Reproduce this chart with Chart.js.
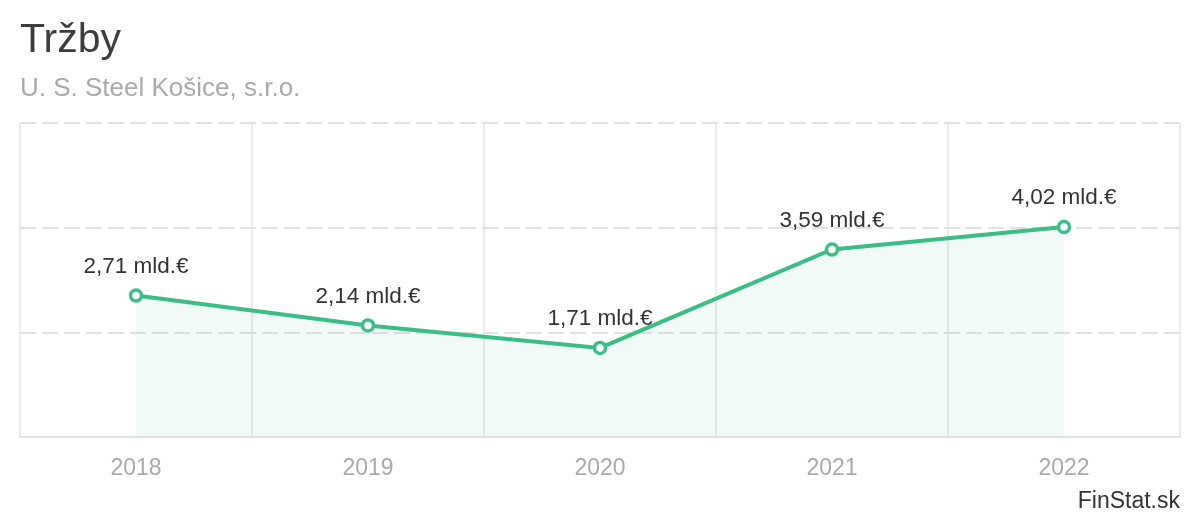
<!DOCTYPE html>
<html>
<head>
<meta charset="utf-8">
<script src="https://cdn.jsdelivr.net/npm/chart.js@4"></script>
<style>
  html, body { margin: 0; padding: 0; background: #fff; }
  .wrap { width: 1200px; height: 520px; }
</style>
</head>
<body>
<div class="wrap"><canvas id="myChart" width="1200" height="520"></canvas></div>
<script>
const years = ["2018", "2019", "2020", "2021", "2022"];
const trzby = [2.71, 2.14, 1.71, 3.59, 4.02];
const yTicks = [0, 2, 4, 6];

const green = "rgb(58, 190, 133)";
const font = "'Liberation Sans', Arial, sans-serif";

// popisky nad bodmi + FinStat.sk vpravo dole
const labelsPlugin = {
  id: "valueLabels",
  afterDatasetsDraw(chart) {
    const ctx = chart.ctx;
    const meta = chart.getDatasetMeta(0);
    ctx.save();
    ctx.font = "22.5px " + font;
    ctx.fillStyle = "#333";
    ctx.textAlign = "center";
    ctx.textBaseline = "middle";
    meta.data.forEach((pt, i) => {
      const txt = trzby[i].toFixed(2).replace(".", ",") + " mld.€";
      ctx.fillText(txt, pt.x, pt.y - 29);
    });
    ctx.font = "23px " + font;
    ctx.textAlign = "right";
    ctx.fillText("FinStat.sk", chart.chartArea.right, 502);
    ctx.restore();
  },
};

const data = {
  labels: years,
  datasets: [
    {
      label: "Tržby",
      data: trzby,
      borderColor: green,
      borderWidth: 4,
      backgroundColor: "rgba(58, 190, 133, 0.07)",
      fill: "origin",
      tension: 0,
      pointRadius: 5.5,
      pointBorderWidth: 3.5,
      pointBackgroundColor: "#fff",
      pointBorderColor: green,
    },
  ],
};

const config = {
  type: "line",
  data: data,
  options: {
    responsive: false,
    animation: false,
    layout: { padding: { left: 20, right: 20, top: 0, bottom: 21 } },
    plugins: {
      legend: { display: false },
      tooltip: { enabled: false },
      title: {
        display: true,
        text: "Tržby",
        align: "start",
        color: "#3d3d3d",
        font: { family: font, size: 41, weight: "normal" },
        padding: { top: 16, bottom: 8 },
      },
      subtitle: {
        display: true,
        text: "U. S. Steel Košice, s.r.o.",
        align: "start",
        color: "#aaaaaa",
        font: { family: font, size: 26, weight: "normal" },
        padding: { top: 0, bottom: 19 },
      },
    },
    scales: {
      x: {
        offset: true,
        grid: {
          offset: true,
          color: "#e9eeed",
          lineWidth: 2,
          drawTicks: false,
        },
        border: { display: true, color: "#e2e2e2", width: 2 },
        ticks: {
          color: "#aaaaaa",
          padding: 17,
          font: { family: font, size: 23 },
        },
      },
      y: {
        min: yTicks[0],
        max: yTicks[yTicks.length - 1],
        afterBuildTicks(axis) {
          axis.ticks = yTicks.map((v) => ({ value: v }));
        },
        grid: {
          color: "#e2e2e2",
          lineWidth: 2,
          drawTicks: false,
        },
        border: { display: false, dash: [16, 6] },
        ticks: { display: false },
      },
    },
  },
  plugins: [labelsPlugin],
};

const myChart = new Chart(document.getElementById("myChart"), config);
</script>
</body>
</html>
